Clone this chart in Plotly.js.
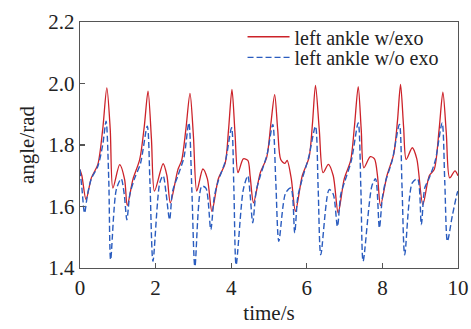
<!DOCTYPE html>
<html><head><meta charset="utf-8">
<script src="https://cdn.plot.ly/plotly-3.0.1.min.js"></script>
<style>html,body{margin:0;padding:0;background:#fff}#c{width:471px;height:329px}</style>
</head><body><div id="c"></div>
<script>
var tRed = [0.00,0.05,0.16,0.30,0.47,0.60,0.71,0.80,0.87,1.05,1.18,1.25,1.40,1.58,1.70,1.80,1.89,1.97,2.20,2.30,2.39,2.59,2.69,2.80,2.91,3.00,3.09,3.25,3.37,3.49,3.66,3.84,3.93,4.02,4.10,4.18,4.32,4.44,4.50,4.59,4.77,4.94,5.05,5.15,5.23,5.31,5.42,5.48,5.59,5.70,5.88,6.06,6.15,6.23,6.33,6.43,6.57,6.70,6.83,6.99,7.16,7.26,7.36,7.44,7.51,7.68,7.79,7.87,7.95,8.12,8.30,8.40,8.48,8.56,8.63,8.79,8.91,9.07,9.24,9.37,9.50,9.60,9.69,9.78,9.92,10.0];
var vRed = [1.72,1.70,1.622,1.693,1.736,1.85,1.986,1.85,1.66,1.736,1.688,1.603,1.688,1.753,1.86,1.975,1.82,1.65,1.739,1.70,1.612,1.72,1.75,1.85,1.968,1.83,1.65,1.722,1.69,1.584,1.69,1.74,1.85,1.981,1.84,1.71,1.755,1.75,1.70,1.612,1.71,1.76,1.87,1.964,1.85,1.753,1.74,1.75,1.69,1.584,1.70,1.76,1.87,1.994,1.85,1.71,1.737,1.70,1.579,1.69,1.75,1.86,1.99,1.85,1.726,1.762,1.755,1.70,1.603,1.70,1.77,1.88,1.997,1.86,1.753,1.791,1.755,1.606,1.70,1.72,1.85,1.972,1.84,1.693,1.716,1.70];
var tBlue = [0.00,0.05,0.12,0.20,0.30,0.47,0.60,0.69,0.76,0.81,0.96,1.09,1.17,1.24,1.32,1.44,1.60,1.78,1.85,1.93,2.11,2.20,2.28,2.37,2.45,2.59,2.75,2.88,2.96,3.04,3.22,3.33,3.46,3.55,3.65,3.85,4.01,4.07,4.13,4.32,4.44,4.50,4.57,4.66,4.77,4.95,5.10,5.18,5.26,5.44,5.58,5.68,5.76,5.88,6.05,6.23,6.30,6.37,6.59,6.70,6.81,6.90,7.00,7.18,7.36,7.43,7.49,7.72,7.82,7.92,8.00,8.08,8.26,8.45,8.52,8.59,8.79,8.93,9.03,9.12,9.23,9.40,9.58,9.65,9.72,9.85,9.98,10.0];
var vBlue = [1.72,1.66,1.579,1.64,1.69,1.73,1.80,1.877,1.69,1.427,1.655,1.69,1.64,1.557,1.64,1.69,1.74,1.861,1.68,1.422,1.677,1.70,1.64,1.557,1.65,1.70,1.76,1.872,1.65,1.405,1.666,1.66,1.525,1.63,1.68,1.75,1.856,1.66,1.41,1.655,1.70,1.64,1.547,1.65,1.70,1.77,1.867,1.68,1.487,1.644,1.66,1.514,1.63,1.69,1.76,1.861,1.66,1.443,1.655,1.64,1.535,1.64,1.68,1.75,1.872,1.66,1.422,1.666,1.69,1.53,1.63,1.68,1.75,1.867,1.66,1.443,1.677,1.69,1.541,1.66,1.69,1.75,1.872,1.68,1.487,1.57,1.644,1.65];
var seriesNames = ['left ankle w/exo', 'left ankle w/o exo'];
var xTicks = [0,2,4,6,8,10];
var yTicks = [1.4,1.6,1.8,2.0,2.2];
var yTickText = ['1.4','1.6','1.8','2.0','2.2'];

var font = {family: 'Liberation Serif, Times New Roman, serif', size: 21, color: '#222'};
var legFont = {family: 'Liberation Serif, Times New Roman, serif', size: 20, color: '#222'};
var traces = [
  {x: tRed, y: vRed, name: seriesNames[0], mode: 'lines', type: 'scatter', legend: 'legend',
   line: {color: '#cc2229', width: 1.3, shape: 'spline', smoothing: 0.8}},
  {x: tBlue, y: vBlue, name: seriesNames[1], mode: 'lines', type: 'scatter', legend: 'legend2',
   line: {color: '#2a5cbf', width: 1.4, dash: '6px,3px', shape: 'spline', smoothing: 0.8}}
];
var axisCommon = {showline: true, mirror: true, linecolor: '#555', linewidth: 1.3,
  ticks: 'inside', ticklen: 5, tickwidth: 1.2, tickcolor: '#555', showgrid: false, zeroline: false,
  tickfont: font};
var legCommon = {xref: 'paper', yref: 'paper', xanchor: 'left', yanchor: 'middle',
  bgcolor: 'rgba(0,0,0,0)', borderwidth: 0, font: legFont, itemwidth: 42};
var layout = {
  width: 471, height: 329,
  margin: {l: 80, r: 13, t: 22, b: 61},
  paper_bgcolor: '#fff', plot_bgcolor: '#fff',
  font: font,
  showlegend: true,
  legend: Object.assign({}, legCommon, {x: 0.43, y: 0.940}),
  legend2: Object.assign({}, legCommon, {x: 0.43, y: 0.856}),
  xaxis: Object.assign({}, axisCommon, {range: [0, 10], tickvals: xTicks,
    title: {text: 'time/s', font: font, standoff: 6}}),
  yaxis: Object.assign({}, axisCommon, {range: [1.4, 2.2], tickvals: yTicks, ticktext: yTickText,
    title: {text: 'angle/rad', font: font, standoff: 8}})
};
Plotly.newPlot('c', traces, layout, {displayModeBar: false, staticPlot: true});
</script></body></html>
